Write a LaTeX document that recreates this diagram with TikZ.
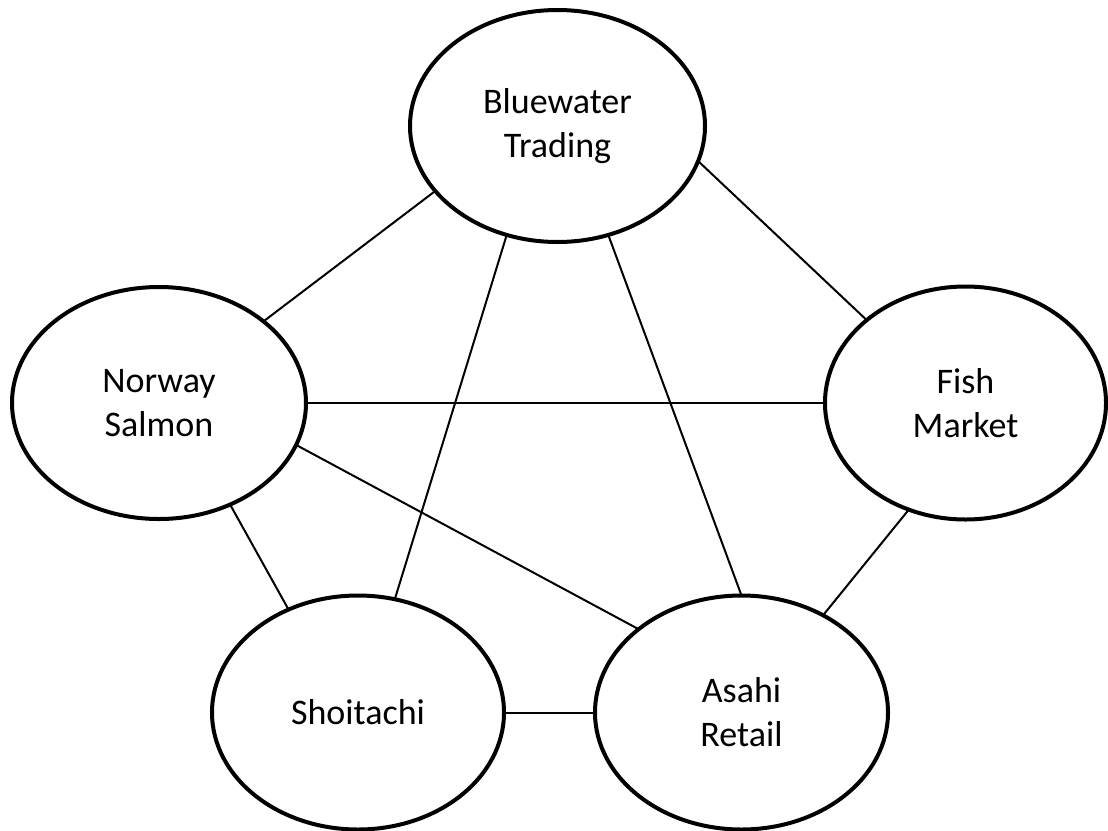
\documentclass[tikz,border=0pt]{standalone}
\usepackage{fontspec}
\setmainfont{Carlito}
\usetikzlibrary{shapes.geometric}
\begin{document}
\begin{tikzpicture}[x=1pt,y=-1pt,
  ent/.style={ellipse, draw=black, line width=4pt, inner sep=0pt, outer sep=0pt,
    align=center, font=\fontsize{36}{44}\selectfont},
  link/.style={draw=black, line width=2pt}]
\useasboundingbox (0,0) rectangle (1108,830);
\node[ent, minimum width=295pt, minimum height=232pt] (bw) at (557.5,126) {Bluewater\\Trading};
\node[ent, minimum width=294pt, minimum height=232pt] (ns) at (159,403) {Norway\\Salmon};
\node[ent, minimum width=281pt, minimum height=233pt] (fm) at (965.5,403) {Fish\\Market};
\node[ent, minimum width=292pt, minimum height=234pt] (sh) at (358,712.5) {Shoitachi};
\node[ent, minimum width=293pt, minimum height=234pt] (ar) at (741.5,712.5) {Asahi\\Retail};
\draw[link] (bw.208) -- (ns.38.7);
\draw[link] (bw.-14.6) -- (fm.140);
\draw[link] (bw.-115) -- (sh.72);
\draw[link] (bw.-65.4) -- (ar.90.7);
\draw[link] (ns.0) -- (fm.180);
\draw[link] (ns.-17) -- (ar.141.4);
\draw[link] (ns.-55.7) -- (sh.124.1);
\draw[link] (fm.-118.6) -- (ar.50.1);
\draw[link] (sh.0) -- (ar.180);
\end{tikzpicture}
\end{document}
